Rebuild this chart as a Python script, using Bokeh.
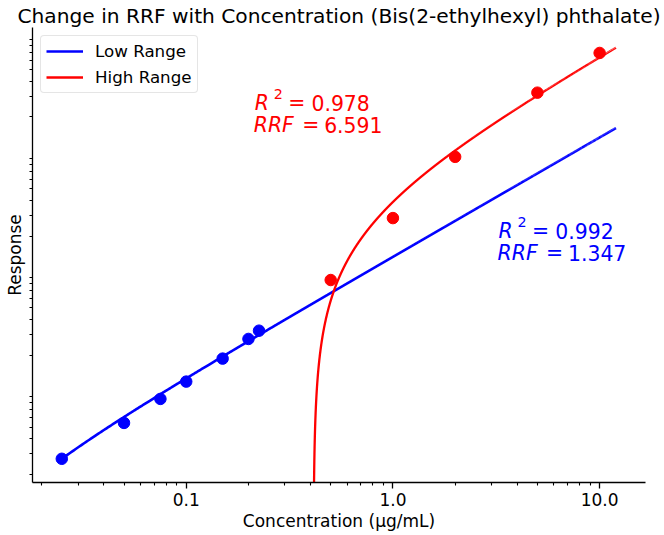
import numpy as np
from bokeh.plotting import figure
from bokeh.models import (FixedTicker, CustomJSTickFormatter, Label, Legend,
                          LegendItem, Range1d)
from bokeh.embed import file_html
from bokeh.resources import INLINE

# ---- data ----
low_conc = [0.025, 0.05, 0.075, 0.1, 0.15, 0.2, 0.225]
low_resp = [0.0271, 0.0542, 0.0862, 0.1204, 0.1877, 0.2745, 0.3221]
high_conc = [0.5, 1.0, 2.0, 5.0, 10.0]
high_resp = [0.857, 2.836, 9.26, 32.0, 68.9]

low_rrf = 1.347          # slope of low-range fit
low_intercept = -0.0066
low_r2 = 0.992
high_rrf = 6.591         # slope of high-range fit
high_intercept = -2.72
high_r2 = 0.978
fit_x_min = 0.025
fit_x_max = 12.0

x_ticks = [0.1, 1.0, 10.0]
x_tick_labels = ["0.1", "1.0", "10.0"]

title_text = "Change in RRF with Concentration (Bis(2-ethylhexyl) phthalate)"

FONT = "DejaVu Sans"
BLUE = "#0000ff"
RED = "#ff0000"

p = figure(width=664, height=535, x_axis_type="log", y_axis_type="log",
           x_range=Range1d(0.01804, 16.67), y_range=Range1d(0.01714, 112.7),
           output_backend="svg", toolbar_location=None,
           min_border_left=32, min_border_right=19, min_border_top=27,
           min_border_bottom=53, title=title_text)
p.grid.visible = False
p.outline_line_color = None
p.background_fill_color = "white"
p.border_fill_color = "white"

p.title.text_font = FONT
p.title.text_font_size = "20.2px"
p.title.text_font_style = "normal"
p.title.text_color = "black"
p.title.align = "center"
p.title.standoff = 0
p.title.offset = -9

minor = []
for k in [-2, -1, 0, 1]:
    for m in range(2, 10):
        minor.append(m * 10.0 ** k)

p.xaxis.ticker = FixedTicker(ticks=x_ticks, minor_ticks=minor)
p.xaxis.formatter = CustomJSTickFormatter(
    args=dict(vals=x_ticks, labs=x_tick_labels),
    code="""
    for (let i = 0; i < vals.length; i++) {
        if (Math.abs(vals[i] - tick) < 1e-9 * Math.max(1, Math.abs(vals[i]))) return labs[i];
    }
    return '';
    """)
p.yaxis.ticker = FixedTicker(ticks=[], minor_ticks=minor)

for ax in (p.xaxis[0], p.yaxis[0]):
    ax.axis_line_color = "black"
    ax.axis_line_width = 1.3
    ax.major_tick_line_color = "black"
    ax.major_tick_line_width = 1.3
    ax.minor_tick_line_color = "black"
    ax.minor_tick_line_width = 1.1
    ax.major_tick_out = 6
    ax.major_tick_in = 0
    ax.minor_tick_out = 3
    ax.minor_tick_in = 0
    ax.major_label_text_font = FONT
    ax.major_label_text_font_size = "17px"
    ax.major_label_text_color = "black"
    ax.axis_label_text_font = FONT
    ax.axis_label_text_font_size = "17px"
    ax.axis_label_text_font_style = "normal"
    ax.axis_label_text_color = "black"

p.xaxis.axis_label = "Concentration (μg/mL)"
p.xaxis.major_label_standoff = 4
p.xaxis.axis_label_standoff = 2
p.yaxis.axis_label = "Response"
p.yaxis.major_tick_out = 0
p.yaxis.major_label_standoff = 0
p.yaxis.axis_label_standoff = 5

# fit lines
xs = np.linspace(fit_x_min, fit_x_max, 20000)
low_fit = low_rrf * xs + low_intercept
high_fit = high_rrf * xs + high_intercept
low_fit = np.where(low_fit > 0, low_fit, np.nan)
high_fit = np.where(high_fit > 0, high_fit, np.nan)

r_low = p.line(xs, low_fit, line_color=BLUE, line_width=2.6)
p.scatter(low_conc, low_resp, size=11.5, fill_color=BLUE, line_color=BLUE)
r_high = p.line(xs, high_fit, line_color=RED, line_width=2.3)
p.scatter(high_conc, high_resp, size=11.5, fill_color=RED, line_color=RED)

legend = Legend(items=[LegendItem(label="Low Range", renderers=[r_low]),
                       LegendItem(label="High Range", renderers=[r_high])],
                location="top_left")
legend.label_text_font = FONT
legend.label_text_font_size = "16.7px"
legend.label_text_color = "black"
legend.glyph_width = 37
legend.glyph_height = 20
legend.label_height = 20
legend.label_standoff = 12
legend.spacing = 6
legend.padding = 5
legend.margin = 8
legend.border_line_color = "#cccccc"
legend.border_line_width = 1.2
legend.border_radius = 4
legend.background_fill_color = "white"
legend.background_fill_alpha = 0.8
p.add_layout(legend)


def annot(x, y, color, r2, rrf):
    fs = "20.4px"
    up = 7      # baseline correction
    left = -2
    pieces = [
        ("R", 1, 0, "italic", fs),
        ("2", 20, 9, "normal", "14.3px"),
        ("=", 34.5, 0, "normal", fs),
        ("%.3f" % r2, 57.7, 0, "normal", fs),
        ("RRF", 0, -22, "italic", fs),
        ("=", 48.5, -22, "normal", fs),
        ("%.3f" % rrf, 70.4, -22, "normal", fs),
    ]
    for txt, dx, dy, style, size in pieces:
        p.add_layout(Label(x=x, y=y, x_offset=dx + left, y_offset=dy + up,
                           text=txt, text_color=color, text_font=FONT,
                           text_font_size=size, text_font_style=style,
                           text_align="left", text_baseline="alphabetic"))


annot(0.2169, 23.07, RED, high_r2, high_rrf)
annot(3.28, 1.939, BLUE, low_r2, low_rrf)

open("out.html", "w").write(file_html(p, INLINE))
